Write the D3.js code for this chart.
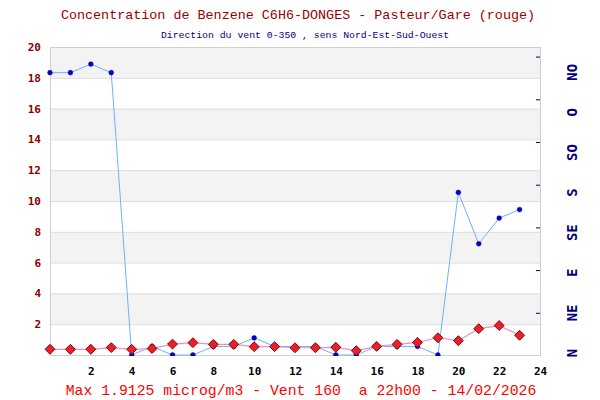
<!DOCTYPE html>
<html><head><meta charset="utf-8">
<script src="https://cdn.jsdelivr.net/npm/d3@7"></script>
<style>body{margin:0;background:#fff}svg{display:block}</style>
</head><body>
<svg id="c" width="600" height="400"></svg>
<script>
const hours = d3.range(0, 24);
const benzene = [0.37,0.37,0.37,0.48,0.37,0.42,0.71,0.8,0.69,0.69,0.54,0.54,0.47,0.47,0.5,0.28,0.56,0.69,0.82,1.12,0.93,1.71,1.9125,1.28];
const windDeg = [330,330,340,330,0,10,0,0,10,10,20,10,10,10,0,0,10,10,10,0,190,130,160,170];
const yTicks = [2,4,6,8,10,12,14,16,18,20];
const xTicks = [2,4,6,8,10,12,14,16,18,20,22,24];
const dirLabels = ["N","NE","E","SE","S","SO","O","NO"];
const dirDeg = [0,45,90,135,180,225,270,315];
const title = "Concentration de Benzene C6H6-DONGES - Pasteur/Gare (rouge)";
const subtitle = "Direction du vent 0-350 , sens Nord-Est-Sud-Ouest";
const footer = "Max 1.9125 microg/m3 - Vent 160  a 22h00 - 14/02/2026";

const svg = d3.select("#c");
const L = 50, R = 540, T = 47, B = 355;
const x = d3.scaleLinear().domain([0, 24]).range([L, R]);
const y = d3.scaleLinear().domain([0, 20]).range([B, T]);
const yw = d3.scaleLinear().domain([0, 360]).range([B, T]);
const y2tick = d3.scaleLinear().domain([0, 360]).range([B, B - 8 * 42.7]);
const y2lab = d3.scaleLinear().domain([0, 360]).range([353, 353 - 8 * 40.1]);

svg.append("rect").attr("width", 600).attr("height", 400).attr("fill", "#fff");

// bands
const bands = d3.range(0, 20, 2);
svg.append("g").selectAll("rect").data(bands).join("rect")
  .attr("x", L).attr("width", R - L)
  .attr("y", d => y(d + 2)).attr("height", d => y(d) - y(d + 2))
  .attr("fill", d => (d / 2) % 2 === 1 ? "#f3f3f3" : "#ffffff");

// grid
svg.append("g").selectAll("line").data(yTicks).join("line")
  .attr("x1", L).attr("x2", R).attr("y1", d => y(d) + 0.5).attr("y2", d => y(d) + 0.5)
  .attr("stroke", "#dddddd").attr("stroke-width", 1);

// frame
svg.append("rect").attr("x", L + 0.5).attr("y", T + 0.5).attr("width", R - L).attr("height", B - T)
  .attr("fill", "none").attr("stroke", "#d0d0d0");

// left axis
const yAxis = d3.axisLeft(y).tickValues(yTicks).tickSize(0).tickPadding(9);
const gy = svg.append("g").attr("transform", `translate(${L},0)`).call(yAxis);
gy.select(".domain").remove();
gy.selectAll("text").attr("fill", "#8b0000").attr("font-family", "DejaVu Sans Mono")
  .attr("font-weight", "bold").attr("font-size", 11);

// bottom axis
const xAxis = d3.axisBottom(x).tickValues(xTicks).tickSize(0).tickPadding(12);
const gx = svg.append("g").attr("transform", `translate(0,${B})`).call(xAxis);
gx.select(".domain").remove();
gx.selectAll("text").attr("fill", "#000").attr("font-family", "DejaVu Sans Mono")
  .attr("font-weight", "bold").attr("font-size", 11);

// right axis ticks (inward)
const y2Axis = d3.axisLeft(y2tick).tickValues(dirDeg.slice(1)).tickSize(4).tickFormat("");
const gy2 = svg.append("g").attr("transform", `translate(${R},0)`).call(y2Axis);
gy2.select(".domain").remove();
gy2.selectAll("line").attr("stroke", "#000080").attr("transform", "translate(0,0.5)");

// right axis labels
const gl = svg.append("g");
gl.selectAll("text").data(dirDeg).join("text")
  .attr("transform", (d) => `translate(572,${y2lab(d)}) rotate(-90)`)
  .attr("text-anchor", "middle").attr("dy", "0.35em")
  .attr("fill", "#000080").attr("font-family", "DejaVu Sans Mono")
  .attr("font-weight", "bold").attr("font-size", 14)
  .text((d, i) => dirLabels[i]);

// clip
svg.append("clipPath").attr("id", "clipw").append("rect")
  .attr("x", L - 6).attr("y", T - 6).attr("width", R - L + 12).attr("height", B - T + 7);

// wind line
const wline = d3.line().x((d, i) => x(hours[i])).y(d => yw(d));
svg.append("path").datum(windDeg).attr("d", wline).attr("fill", "none")
  .attr("stroke", "#6fb0ff").attr("stroke-width", 1).attr("clip-path", "url(#clipw)");
svg.append("g").attr("clip-path", "url(#clipw)").selectAll("circle").data(windDeg).join("circle")
  .attr("cx", (d, i) => x(hours[i])).attr("cy", d => yw(d)).attr("r", 2.4)
  .attr("fill", "#0000cc").attr("stroke", "#000099").attr("stroke-width", 0.5);

// benzene line
const bline = d3.line().x((d, i) => x(hours[i])).y(d => y(d));
svg.append("path").datum(benzene).attr("d", bline).attr("fill", "none")
  .attr("stroke", "#f48fbf").attr("stroke-width", 1.2);
const diamond = d3.symbol().type(d3.symbolDiamond2).size(62);
svg.append("g").selectAll("path").data(benzene).join("path")
  .attr("transform", (d, i) => `translate(${x(hours[i])},${y(d)})`)
  .attr("d", diamond).attr("fill", "#e8202a").attr("stroke", "#8b0000").attr("stroke-width", 1);

// titles
svg.append("text").attr("x", 298).attr("y", 19).attr("text-anchor", "middle")
  .attr("fill", "#990000").attr("font-family", "Liberation Mono").attr("font-size", 13.4)
  .text(title);
svg.append("text").attr("x", 305).attr("y", 38).attr("text-anchor", "middle")
  .attr("fill", "#000080").attr("font-family", "Liberation Mono").attr("font-size", 9.8)
  .text(subtitle);
svg.append("text").attr("x", 301).attr("y", 395).attr("text-anchor", "middle")
  .attr("fill", "#ff0000").attr("font-family", "Liberation Mono").attr("font-size", 14.8)
  .style("white-space", "pre")
  .text(footer);
</script>
</body></html>
